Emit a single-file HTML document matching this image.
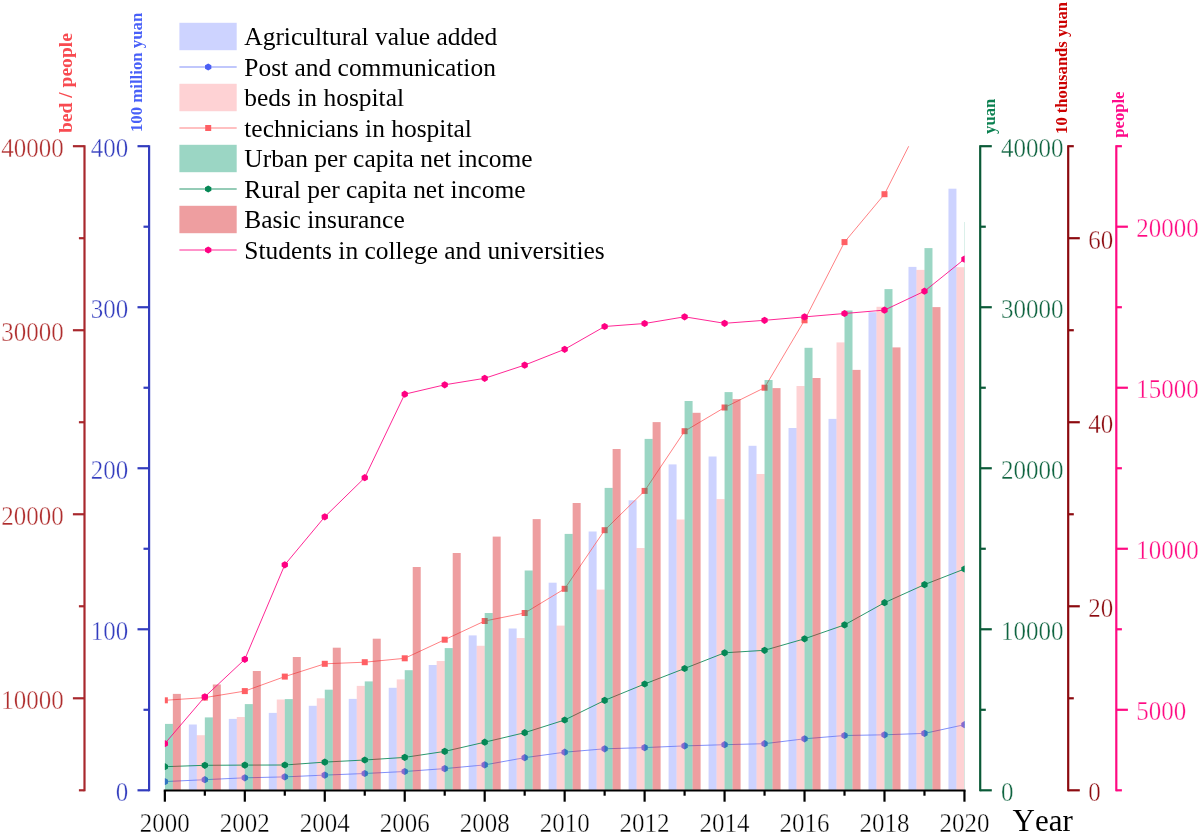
<!DOCTYPE html>
<html><head><meta charset="utf-8"><title>Chart</title>
<style>html,body{margin:0;padding:0;background:#fff;width:1200px;height:834px;overflow:hidden;font-family:"Liberation Serif",serif;}text{font-kerning:none;}svg{display:block;will-change:transform;}</style>
</head><body>
<svg width="1200" height="834" viewBox="0 0 1200 834" font-family="Liberation Serif, serif">
<defs><clipPath id="pc"><rect x="164.85" y="146.2" width="799.8" height="644.0999999999999"/></clipPath></defs>
<rect width="1200" height="834" fill="#fff"/>
<g clip-path="url(#pc)"><g fill="rgb(0,30,255)" fill-opacity="0.196"><rect x="188.83" y="724.50" width="8.0" height="65.50"/><rect x="228.81" y="718.90" width="8.0" height="71.10"/><rect x="268.79" y="712.90" width="8.0" height="77.10"/><rect x="308.77" y="705.80" width="8.0" height="84.20"/><rect x="348.75" y="698.90" width="8.0" height="91.10"/><rect x="388.73" y="687.80" width="8.0" height="102.20"/><rect x="428.71" y="665.00" width="8.0" height="125.00"/><rect x="468.69" y="635.40" width="8.0" height="154.60"/><rect x="508.67" y="628.50" width="8.0" height="161.50"/><rect x="548.65" y="582.70" width="8.0" height="207.30"/><rect x="588.63" y="531.50" width="8.0" height="258.50"/><rect x="628.61" y="500.30" width="8.0" height="289.70"/><rect x="668.59" y="464.40" width="8.0" height="325.60"/><rect x="708.57" y="456.50" width="8.0" height="333.50"/><rect x="748.55" y="445.80" width="8.0" height="344.20"/><rect x="788.53" y="428.00" width="8.0" height="362.00"/><rect x="828.51" y="418.90" width="8.0" height="371.10"/><rect x="868.49" y="312.20" width="8.0" height="477.80"/><rect x="908.47" y="266.90" width="8.0" height="523.10"/><rect x="948.45" y="188.70" width="8.0" height="601.30"/></g><polyline points="164.85,781.60 204.83,779.70 244.81,777.80 284.79,776.90 324.77,775.10 364.75,773.50 404.73,771.50 444.71,768.60 484.69,764.90 524.67,757.70 564.65,752.20 604.63,748.80 644.61,747.60 684.59,745.90 724.57,744.70 764.55,743.70 804.53,738.80 844.51,735.50 884.49,734.80 924.47,733.40 964.45,724.70" fill="none" stroke="#6a7cf8" stroke-width="0.85" stroke-linejoin="round"/><path fill="#4b5ff5" d="M164.85,778.00 L168.00,779.80 L168.00,783.40 L164.85,785.20 L161.70,783.40 L161.70,779.80ZM204.83,776.10 L207.98,777.90 L207.98,781.50 L204.83,783.30 L201.68,781.50 L201.68,777.90ZM244.81,774.20 L247.96,776.00 L247.96,779.60 L244.81,781.40 L241.66,779.60 L241.66,776.00ZM284.79,773.30 L287.94,775.10 L287.94,778.70 L284.79,780.50 L281.64,778.70 L281.64,775.10ZM324.77,771.50 L327.92,773.30 L327.92,776.90 L324.77,778.70 L321.62,776.90 L321.62,773.30ZM364.75,769.90 L367.90,771.70 L367.90,775.30 L364.75,777.10 L361.60,775.30 L361.60,771.70ZM404.73,767.90 L407.88,769.70 L407.88,773.30 L404.73,775.10 L401.58,773.30 L401.58,769.70ZM444.71,765.00 L447.86,766.80 L447.86,770.40 L444.71,772.20 L441.56,770.40 L441.56,766.80ZM484.69,761.30 L487.84,763.10 L487.84,766.70 L484.69,768.50 L481.54,766.70 L481.54,763.10ZM524.67,754.10 L527.82,755.90 L527.82,759.50 L524.67,761.30 L521.52,759.50 L521.52,755.90ZM564.65,748.60 L567.80,750.40 L567.80,754.00 L564.65,755.80 L561.50,754.00 L561.50,750.40ZM604.63,745.20 L607.78,747.00 L607.78,750.60 L604.63,752.40 L601.48,750.60 L601.48,747.00ZM644.61,744.00 L647.76,745.80 L647.76,749.40 L644.61,751.20 L641.46,749.40 L641.46,745.80ZM684.59,742.30 L687.74,744.10 L687.74,747.70 L684.59,749.50 L681.44,747.70 L681.44,744.10ZM724.57,741.10 L727.72,742.90 L727.72,746.50 L724.57,748.30 L721.42,746.50 L721.42,742.90ZM764.55,740.10 L767.70,741.90 L767.70,745.50 L764.55,747.30 L761.40,745.50 L761.40,741.90ZM804.53,735.20 L807.68,737.00 L807.68,740.60 L804.53,742.40 L801.38,740.60 L801.38,737.00ZM844.51,731.90 L847.66,733.70 L847.66,737.30 L844.51,739.10 L841.36,737.30 L841.36,733.70ZM884.49,731.20 L887.64,733.00 L887.64,736.60 L884.49,738.40 L881.34,736.60 L881.34,733.00ZM924.47,729.80 L927.62,731.60 L927.62,735.20 L924.47,737.00 L921.32,735.20 L921.32,731.60ZM964.45,721.10 L967.60,722.90 L967.60,726.50 L964.45,728.30 L961.30,726.50 L961.30,722.90Z"/><g fill="rgb(252,126,132)" fill-opacity="0.35"><rect x="196.83" y="735.20" width="8.0" height="54.80"/><rect x="236.81" y="717.00" width="8.0" height="73.00"/><rect x="276.79" y="699.50" width="8.0" height="90.50"/><rect x="316.77" y="698.30" width="8.0" height="91.70"/><rect x="356.75" y="685.90" width="8.0" height="104.10"/><rect x="396.73" y="679.40" width="8.0" height="110.60"/><rect x="436.71" y="661.00" width="8.0" height="129.00"/><rect x="476.69" y="645.80" width="8.0" height="144.20"/><rect x="516.67" y="638.00" width="8.0" height="152.00"/><rect x="556.65" y="625.60" width="8.0" height="164.40"/><rect x="596.63" y="589.60" width="8.0" height="200.40"/><rect x="636.61" y="548.00" width="8.0" height="242.00"/><rect x="676.59" y="519.50" width="8.0" height="270.50"/><rect x="716.57" y="499.10" width="8.0" height="290.90"/><rect x="756.55" y="474.00" width="8.0" height="316.00"/><rect x="796.53" y="386.00" width="8.0" height="404.00"/><rect x="836.51" y="342.40" width="8.0" height="447.60"/><rect x="876.49" y="306.80" width="8.0" height="483.20"/><rect x="916.47" y="269.90" width="8.0" height="520.10"/><rect x="956.45" y="267.20" width="8.0" height="522.80"/></g><polyline points="164.85,700.30 204.83,697.60 244.81,691.10 284.79,676.60 324.77,663.80 364.75,662.20 404.73,658.30 444.71,639.70 484.69,621.00 524.67,613.00 564.65,588.80 604.63,530.20 644.61,490.90 684.59,431.20 724.57,407.50 764.55,387.70 804.53,320.30 844.51,242.10 884.49,194.20 924.47,115.00 964.45,40.00" fill="none" stroke="#ff6a6e" stroke-width="0.85" stroke-linejoin="round"/><g fill="#ff5f64"><rect x="161.85" y="697.30" width="6" height="6"/><rect x="201.83" y="694.60" width="6" height="6"/><rect x="241.81" y="688.10" width="6" height="6"/><rect x="281.79" y="673.60" width="6" height="6"/><rect x="321.77" y="660.80" width="6" height="6"/><rect x="361.75" y="659.20" width="6" height="6"/><rect x="401.73" y="655.30" width="6" height="6"/><rect x="441.71" y="636.70" width="6" height="6"/><rect x="481.69" y="618.00" width="6" height="6"/><rect x="521.67" y="610.00" width="6" height="6"/><rect x="561.65" y="585.80" width="6" height="6"/><rect x="601.63" y="527.20" width="6" height="6"/><rect x="641.61" y="487.90" width="6" height="6"/><rect x="681.59" y="428.20" width="6" height="6"/><rect x="721.57" y="404.50" width="6" height="6"/><rect x="761.55" y="384.70" width="6" height="6"/><rect x="801.53" y="317.30" width="6" height="6"/><rect x="841.51" y="239.10" width="6" height="6"/><rect x="881.49" y="191.20" width="6" height="6"/><rect x="921.47" y="112.00" width="6" height="6"/><rect x="961.45" y="37.00" width="6" height="6"/></g><g fill="rgb(5,152,107)" fill-opacity="0.4"><rect x="164.85" y="723.90" width="8.0" height="66.10"/><rect x="204.83" y="717.40" width="8.0" height="72.60"/><rect x="244.81" y="704.10" width="8.0" height="85.90"/><rect x="284.79" y="699.10" width="8.0" height="90.90"/><rect x="324.77" y="689.70" width="8.0" height="100.30"/><rect x="364.75" y="681.40" width="8.0" height="108.60"/><rect x="404.73" y="670.20" width="8.0" height="119.80"/><rect x="444.71" y="648.10" width="8.0" height="141.90"/><rect x="484.69" y="613.00" width="8.0" height="177.00"/><rect x="524.67" y="570.50" width="8.0" height="219.50"/><rect x="564.65" y="533.90" width="8.0" height="256.10"/><rect x="604.63" y="487.90" width="8.0" height="302.10"/><rect x="644.61" y="438.90" width="8.0" height="351.10"/><rect x="684.59" y="401.00" width="8.0" height="389.00"/><rect x="724.57" y="392.10" width="8.0" height="397.90"/><rect x="764.55" y="380.00" width="8.0" height="410.00"/><rect x="804.53" y="347.80" width="8.0" height="442.20"/><rect x="844.51" y="310.50" width="8.0" height="479.50"/><rect x="884.49" y="289.10" width="8.0" height="500.90"/><rect x="924.47" y="248.10" width="8.0" height="541.90"/><rect x="964.45" y="222.00" width="8.0" height="568.00"/></g><polyline points="164.85,766.70 204.83,765.30 244.81,765.10 284.79,765.00 324.77,762.10 364.75,760.00 404.73,757.40 444.71,751.40 484.69,742.20 524.67,732.70 564.65,720.00 604.63,700.40 644.61,684.00 684.59,668.50 724.57,652.80 764.55,650.30 804.53,638.80 844.51,624.90 884.49,602.70 924.47,584.60 964.45,569.00" fill="none" stroke="#058755" stroke-width="0.85" stroke-linejoin="round"/><path fill="#058755" d="M164.85,763.10 L168.00,764.90 L168.00,768.50 L164.85,770.30 L161.70,768.50 L161.70,764.90ZM204.83,761.70 L207.98,763.50 L207.98,767.10 L204.83,768.90 L201.68,767.10 L201.68,763.50ZM244.81,761.50 L247.96,763.30 L247.96,766.90 L244.81,768.70 L241.66,766.90 L241.66,763.30ZM284.79,761.40 L287.94,763.20 L287.94,766.80 L284.79,768.60 L281.64,766.80 L281.64,763.20ZM324.77,758.50 L327.92,760.30 L327.92,763.90 L324.77,765.70 L321.62,763.90 L321.62,760.30ZM364.75,756.40 L367.90,758.20 L367.90,761.80 L364.75,763.60 L361.60,761.80 L361.60,758.20ZM404.73,753.80 L407.88,755.60 L407.88,759.20 L404.73,761.00 L401.58,759.20 L401.58,755.60ZM444.71,747.80 L447.86,749.60 L447.86,753.20 L444.71,755.00 L441.56,753.20 L441.56,749.60ZM484.69,738.60 L487.84,740.40 L487.84,744.00 L484.69,745.80 L481.54,744.00 L481.54,740.40ZM524.67,729.10 L527.82,730.90 L527.82,734.50 L524.67,736.30 L521.52,734.50 L521.52,730.90ZM564.65,716.40 L567.80,718.20 L567.80,721.80 L564.65,723.60 L561.50,721.80 L561.50,718.20ZM604.63,696.80 L607.78,698.60 L607.78,702.20 L604.63,704.00 L601.48,702.20 L601.48,698.60ZM644.61,680.40 L647.76,682.20 L647.76,685.80 L644.61,687.60 L641.46,685.80 L641.46,682.20ZM684.59,664.90 L687.74,666.70 L687.74,670.30 L684.59,672.10 L681.44,670.30 L681.44,666.70ZM724.57,649.20 L727.72,651.00 L727.72,654.60 L724.57,656.40 L721.42,654.60 L721.42,651.00ZM764.55,646.70 L767.70,648.50 L767.70,652.10 L764.55,653.90 L761.40,652.10 L761.40,648.50ZM804.53,635.20 L807.68,637.00 L807.68,640.60 L804.53,642.40 L801.38,640.60 L801.38,637.00ZM844.51,621.30 L847.66,623.10 L847.66,626.70 L844.51,628.50 L841.36,626.70 L841.36,623.10ZM884.49,599.10 L887.64,600.90 L887.64,604.50 L884.49,606.30 L881.34,604.50 L881.34,600.90ZM924.47,581.00 L927.62,582.80 L927.62,586.40 L924.47,588.20 L921.32,586.40 L921.32,582.80ZM964.45,565.40 L967.60,567.20 L967.60,570.80 L964.45,572.60 L961.30,570.80 L961.30,567.20Z"/><g fill="rgb(217,39,44)" fill-opacity="0.45"><rect x="172.85" y="693.90" width="8.0" height="96.10"/><rect x="212.83" y="684.50" width="8.0" height="105.50"/><rect x="252.81" y="671.00" width="8.0" height="119.00"/><rect x="292.79" y="657.00" width="8.0" height="133.00"/><rect x="332.77" y="647.70" width="8.0" height="142.30"/><rect x="372.75" y="638.70" width="8.0" height="151.30"/><rect x="412.73" y="567.00" width="8.0" height="223.00"/><rect x="452.71" y="553.00" width="8.0" height="237.00"/><rect x="492.69" y="536.60" width="8.0" height="253.40"/><rect x="532.67" y="519.10" width="8.0" height="270.90"/><rect x="572.65" y="503.00" width="8.0" height="287.00"/><rect x="612.63" y="449.00" width="8.0" height="341.00"/><rect x="652.61" y="422.10" width="8.0" height="367.90"/><rect x="692.59" y="412.80" width="8.0" height="377.20"/><rect x="732.57" y="399.10" width="8.0" height="390.90"/><rect x="772.55" y="388.10" width="8.0" height="401.90"/><rect x="812.53" y="378.00" width="8.0" height="412.00"/><rect x="852.51" y="369.90" width="8.0" height="420.10"/><rect x="892.49" y="347.40" width="8.0" height="442.60"/><rect x="932.47" y="307.10" width="8.0" height="482.90"/></g><polyline points="164.85,743.60 204.83,696.80 244.81,659.30 284.79,564.80 324.77,516.80 364.75,477.70 404.73,394.20 444.71,384.80 484.69,378.30 524.67,365.10 564.65,349.30 604.63,326.50 644.61,323.50 684.59,316.80 724.57,323.30 764.55,320.30 804.53,316.90 844.51,313.50 884.49,310.10 924.47,291.20 964.45,259.10" fill="none" stroke="#ff0082" stroke-width="0.85" stroke-linejoin="round"/><path fill="#ff0082" d="M164.85,740.00 L168.00,741.80 L168.00,745.40 L164.85,747.20 L161.70,745.40 L161.70,741.80ZM204.83,693.20 L207.98,695.00 L207.98,698.60 L204.83,700.40 L201.68,698.60 L201.68,695.00ZM244.81,655.70 L247.96,657.50 L247.96,661.10 L244.81,662.90 L241.66,661.10 L241.66,657.50ZM284.79,561.20 L287.94,563.00 L287.94,566.60 L284.79,568.40 L281.64,566.60 L281.64,563.00ZM324.77,513.20 L327.92,515.00 L327.92,518.60 L324.77,520.40 L321.62,518.60 L321.62,515.00ZM364.75,474.10 L367.90,475.90 L367.90,479.50 L364.75,481.30 L361.60,479.50 L361.60,475.90ZM404.73,390.60 L407.88,392.40 L407.88,396.00 L404.73,397.80 L401.58,396.00 L401.58,392.40ZM444.71,381.20 L447.86,383.00 L447.86,386.60 L444.71,388.40 L441.56,386.60 L441.56,383.00ZM484.69,374.70 L487.84,376.50 L487.84,380.10 L484.69,381.90 L481.54,380.10 L481.54,376.50ZM524.67,361.50 L527.82,363.30 L527.82,366.90 L524.67,368.70 L521.52,366.90 L521.52,363.30ZM564.65,345.70 L567.80,347.50 L567.80,351.10 L564.65,352.90 L561.50,351.10 L561.50,347.50ZM604.63,322.90 L607.78,324.70 L607.78,328.30 L604.63,330.10 L601.48,328.30 L601.48,324.70ZM644.61,319.90 L647.76,321.70 L647.76,325.30 L644.61,327.10 L641.46,325.30 L641.46,321.70ZM684.59,313.20 L687.74,315.00 L687.74,318.60 L684.59,320.40 L681.44,318.60 L681.44,315.00ZM724.57,319.70 L727.72,321.50 L727.72,325.10 L724.57,326.90 L721.42,325.10 L721.42,321.50ZM764.55,316.70 L767.70,318.50 L767.70,322.10 L764.55,323.90 L761.40,322.10 L761.40,318.50ZM804.53,313.30 L807.68,315.10 L807.68,318.70 L804.53,320.50 L801.38,318.70 L801.38,315.10ZM844.51,309.90 L847.66,311.70 L847.66,315.30 L844.51,317.10 L841.36,315.30 L841.36,311.70ZM884.49,306.50 L887.64,308.30 L887.64,311.90 L884.49,313.70 L881.34,311.90 L881.34,308.30ZM924.47,287.60 L927.62,289.40 L927.62,293.00 L924.47,294.80 L921.32,293.00 L921.32,289.40ZM964.45,255.50 L967.60,257.30 L967.60,260.90 L964.45,262.70 L961.30,260.90 L961.30,257.30Z"/></g>
<g stroke="#a8282d" stroke-width="2.2" fill="none"><line x1="84.5" y1="145.2" x2="84.5" y2="791.3"/><line x1="72.9" y1="698.29" x2="84.5" y2="698.29"/><line x1="72.9" y1="514.26" x2="84.5" y2="514.26"/><line x1="72.9" y1="330.23" x2="84.5" y2="330.23"/><line x1="72.9" y1="146.20" x2="84.5" y2="146.20"/><line x1="78.9" y1="790.30" x2="84.5" y2="790.30"/><line x1="78.9" y1="606.27" x2="84.5" y2="606.27"/><line x1="78.9" y1="422.24" x2="84.5" y2="422.24"/><line x1="78.9" y1="238.21" x2="84.5" y2="238.21"/></g><g fill="#af2d2d" font-size="25" text-anchor="end" stroke="#fff" stroke-width="0.35"><text transform="translate(63.70,708.79) scale(1,1.05)">10000</text><text transform="translate(63.70,524.76) scale(1,1.05)">20000</text><text transform="translate(63.70,340.73) scale(1,1.05)">30000</text><text transform="translate(63.70,156.70) scale(1,1.05)">40000</text></g><g stroke="#323cbe" stroke-width="2.2" fill="none"><line x1="149.1" y1="145.2" x2="149.1" y2="791.3"/><line x1="137.5" y1="790.30" x2="149.1" y2="790.30"/><line x1="137.5" y1="629.27" x2="149.1" y2="629.27"/><line x1="137.5" y1="468.25" x2="149.1" y2="468.25"/><line x1="137.5" y1="307.23" x2="149.1" y2="307.23"/><line x1="137.5" y1="146.20" x2="149.1" y2="146.20"/><line x1="143.5" y1="709.79" x2="149.1" y2="709.79"/><line x1="143.5" y1="548.76" x2="149.1" y2="548.76"/><line x1="143.5" y1="387.74" x2="149.1" y2="387.74"/><line x1="143.5" y1="226.71" x2="149.1" y2="226.71"/></g><g fill="#323cbe" font-size="25" text-anchor="end" stroke="#fff" stroke-width="0.35"><text transform="translate(128.30,800.80) scale(1,1.05)">0</text><text transform="translate(128.30,639.77) scale(1,1.05)">100</text><text transform="translate(128.30,478.75) scale(1,1.05)">200</text><text transform="translate(128.30,317.73) scale(1,1.05)">300</text><text transform="translate(128.30,156.70) scale(1,1.05)">400</text></g><g stroke="#0a5a37" stroke-width="2.2" fill="none"><line x1="980.2" y1="145.2" x2="980.2" y2="791.3"/><line x1="991.8000000000001" y1="790.30" x2="980.2" y2="790.30"/><line x1="991.8000000000001" y1="629.27" x2="980.2" y2="629.27"/><line x1="991.8000000000001" y1="468.25" x2="980.2" y2="468.25"/><line x1="991.8000000000001" y1="307.23" x2="980.2" y2="307.23"/><line x1="991.8000000000001" y1="146.20" x2="980.2" y2="146.20"/><line x1="985.8000000000001" y1="709.79" x2="980.2" y2="709.79"/><line x1="985.8000000000001" y1="548.76" x2="980.2" y2="548.76"/><line x1="985.8000000000001" y1="387.74" x2="980.2" y2="387.74"/><line x1="985.8000000000001" y1="226.71" x2="980.2" y2="226.71"/></g><g fill="#0f6440" font-size="25" text-anchor="start" stroke="#fff" stroke-width="0.35"><text transform="translate(1001.00,800.80) scale(1,1.05)">0</text><text transform="translate(1001.00,639.77) scale(1,1.05)">10000</text><text transform="translate(1001.00,478.75) scale(1,1.05)">20000</text><text transform="translate(1001.00,317.73) scale(1,1.05)">30000</text><text transform="translate(1001.00,156.70) scale(1,1.05)">40000</text></g><g stroke="#8c0a0f" stroke-width="2.2" fill="none"><line x1="1068.2" y1="145.2" x2="1068.2" y2="791.3"/><line x1="1079.8" y1="790.30" x2="1068.2" y2="790.30"/><line x1="1079.8" y1="606.27" x2="1068.2" y2="606.27"/><line x1="1079.8" y1="422.24" x2="1068.2" y2="422.24"/><line x1="1079.8" y1="238.21" x2="1068.2" y2="238.21"/><line x1="1073.8" y1="698.29" x2="1068.2" y2="698.29"/><line x1="1073.8" y1="514.26" x2="1068.2" y2="514.26"/><line x1="1073.8" y1="330.23" x2="1068.2" y2="330.23"/><line x1="1073.8" y1="146.20" x2="1068.2" y2="146.20"/></g><g fill="#8c0a0f" font-size="25" text-anchor="start" stroke="#fff" stroke-width="0.35"><text transform="translate(1088.20,800.80) scale(1,1.05)">0</text><text transform="translate(1088.20,616.77) scale(1,1.05)">20</text><text transform="translate(1088.20,432.74) scale(1,1.05)">40</text><text transform="translate(1088.20,248.71) scale(1,1.05)">60</text></g><g stroke="#ff0a82" stroke-width="2.2" fill="none"><line x1="1116.3" y1="145.2" x2="1116.3" y2="791.3"/><line x1="1127.8999999999999" y1="709.79" x2="1116.3" y2="709.79"/><line x1="1127.8999999999999" y1="548.76" x2="1116.3" y2="548.76"/><line x1="1127.8999999999999" y1="387.74" x2="1116.3" y2="387.74"/><line x1="1127.8999999999999" y1="226.71" x2="1116.3" y2="226.71"/><line x1="1121.8999999999999" y1="790.30" x2="1116.3" y2="790.30"/><line x1="1121.8999999999999" y1="629.27" x2="1116.3" y2="629.27"/><line x1="1121.8999999999999" y1="468.25" x2="1116.3" y2="468.25"/><line x1="1121.8999999999999" y1="307.23" x2="1116.3" y2="307.23"/><line x1="1121.8999999999999" y1="146.20" x2="1116.3" y2="146.20"/></g><g fill="#ff0a82" font-size="25" text-anchor="start" stroke="#fff" stroke-width="0.35"><text transform="translate(1136.30,720.29) scale(1,1.05)">5000</text><text transform="translate(1136.30,559.26) scale(1,1.05)">10000</text><text transform="translate(1136.30,398.24) scale(1,1.05)">15000</text><text transform="translate(1136.30,237.21) scale(1,1.05)">20000</text></g>
<g stroke="#000" stroke-width="2.2" fill="none"><line x1="163.75" y1="790.5" x2="965.55" y2="790.5"/><line x1="164.85" y1="790.5" x2="164.85" y2="801.7"/><line x1="204.82999999999998" y1="790.5" x2="204.82999999999998" y2="795.7"/><line x1="244.81" y1="790.5" x2="244.81" y2="801.7"/><line x1="284.78999999999996" y1="790.5" x2="284.78999999999996" y2="795.7"/><line x1="324.77" y1="790.5" x2="324.77" y2="801.7"/><line x1="364.75" y1="790.5" x2="364.75" y2="795.7"/><line x1="404.73" y1="790.5" x2="404.73" y2="801.7"/><line x1="444.7099999999999" y1="790.5" x2="444.7099999999999" y2="795.7"/><line x1="484.68999999999994" y1="790.5" x2="484.68999999999994" y2="801.7"/><line x1="524.67" y1="790.5" x2="524.67" y2="795.7"/><line x1="564.65" y1="790.5" x2="564.65" y2="801.7"/><line x1="604.63" y1="790.5" x2="604.63" y2="795.7"/><line x1="644.61" y1="790.5" x2="644.61" y2="801.7"/><line x1="684.59" y1="790.5" x2="684.59" y2="795.7"/><line x1="724.5699999999999" y1="790.5" x2="724.5699999999999" y2="801.7"/><line x1="764.55" y1="790.5" x2="764.55" y2="795.7"/><line x1="804.53" y1="790.5" x2="804.53" y2="801.7"/><line x1="844.51" y1="790.5" x2="844.51" y2="795.7"/><line x1="884.49" y1="790.5" x2="884.49" y2="801.7"/><line x1="924.4699999999999" y1="790.5" x2="924.4699999999999" y2="795.7"/><line x1="964.4499999999999" y1="790.5" x2="964.4499999999999" y2="801.7"/></g><g fill="#000" font-size="25" text-anchor="middle" stroke="#fff" stroke-width="0.35"><text transform="translate(164.85,831.6) scale(1,1.05)">2000</text><text transform="translate(244.81,831.6) scale(1,1.05)">2002</text><text transform="translate(324.77,831.6) scale(1,1.05)">2004</text><text transform="translate(404.73,831.6) scale(1,1.05)">2006</text><text transform="translate(484.68999999999994,831.6) scale(1,1.05)">2008</text><text transform="translate(564.65,831.6) scale(1,1.05)">2010</text><text transform="translate(644.61,831.6) scale(1,1.05)">2012</text><text transform="translate(724.5699999999999,831.6) scale(1,1.05)">2014</text><text transform="translate(804.53,831.6) scale(1,1.05)">2016</text><text transform="translate(884.49,831.6) scale(1,1.05)">2018</text><text transform="translate(964.4499999999999,831.6) scale(1,1.05)">2020</text></g><text transform="translate(1012.6,831.3) scale(1,1.03)" font-size="31" fill="#000">Year</text>
<text transform="translate(72.0,133.0) rotate(-90)" font-weight="bold" font-size="19.55" fill="#f84a50">bed / people</text><text transform="translate(142.3,132.1) rotate(-90)" font-weight="bold" font-size="16.8" fill="#4860f8">100 million yuan</text><text transform="translate(994.9,133.9) rotate(-90)" font-weight="bold" font-size="16.6" fill="#0a8050">yuan</text><text transform="translate(1067.2,133.9) rotate(-90)" font-weight="bold" font-size="16.6" fill="#cc0000">10 thousands yuan</text><text transform="translate(1124.4,137.7) rotate(-90)" font-weight="bold" font-size="16.6" fill="#ff0a8a">people</text>
<rect x="179.4" y="22.8" width="57.3" height="27.4" fill="rgb(0,30,255)" fill-opacity="0.196"/><text transform="translate(244.3,45.20) scale(1,1.03)" font-size="25.45" fill="#000">Agricultural value added</text><line x1="179.4" y1="67.0" x2="236.7" y2="67.0" stroke="#6a7cf8" stroke-width="0.85"/><path fill="#4b5ff5" d="M208.20,63.40 L211.35,65.20 L211.35,68.80 L208.20,70.60 L205.05,68.80 L205.05,65.20Z"/><text transform="translate(244.3,75.70) scale(1,1.03)" font-size="25.45" fill="#000">Post and communication</text><rect x="179.4" y="83.8" width="57.3" height="27.4" fill="rgb(252,126,132)" fill-opacity="0.35"/><text transform="translate(244.3,106.20) scale(1,1.03)" font-size="25.45" fill="#000">beds in hospital</text><line x1="179.4" y1="128.0" x2="236.7" y2="128.0" stroke="#ff6a6e" stroke-width="0.85"/><rect x="205.2" y="125.0" width="6" height="6" fill="#ff5f64"/><text transform="translate(244.3,136.70) scale(1,1.03)" font-size="25.45" fill="#000">technicians in hospital</text><rect x="179.4" y="144.8" width="57.3" height="27.4" fill="rgb(5,152,107)" fill-opacity="0.4"/><text transform="translate(244.3,167.20) scale(1,1.03)" font-size="25.45" fill="#000">Urban per capita net income</text><line x1="179.4" y1="189.0" x2="236.7" y2="189.0" stroke="#058755" stroke-width="0.85"/><path fill="#058755" d="M208.20,185.40 L211.35,187.20 L211.35,190.80 L208.20,192.60 L205.05,190.80 L205.05,187.20Z"/><text transform="translate(244.3,197.70) scale(1,1.03)" font-size="25.45" fill="#000">Rural per capita net income</text><rect x="179.4" y="205.8" width="57.3" height="27.4" fill="rgb(217,39,44)" fill-opacity="0.45"/><text transform="translate(244.3,228.20) scale(1,1.03)" font-size="25.45" fill="#000">Basic insurance</text><line x1="179.4" y1="250.0" x2="236.7" y2="250.0" stroke="#ff0082" stroke-width="0.85"/><path fill="#ff0082" d="M208.20,246.40 L211.35,248.20 L211.35,251.80 L208.20,253.60 L205.05,251.80 L205.05,248.20Z"/><text transform="translate(244.3,258.70) scale(1,1.03)" font-size="25.45" fill="#000">Students in college and universities</text>
</svg>
</body></html>
